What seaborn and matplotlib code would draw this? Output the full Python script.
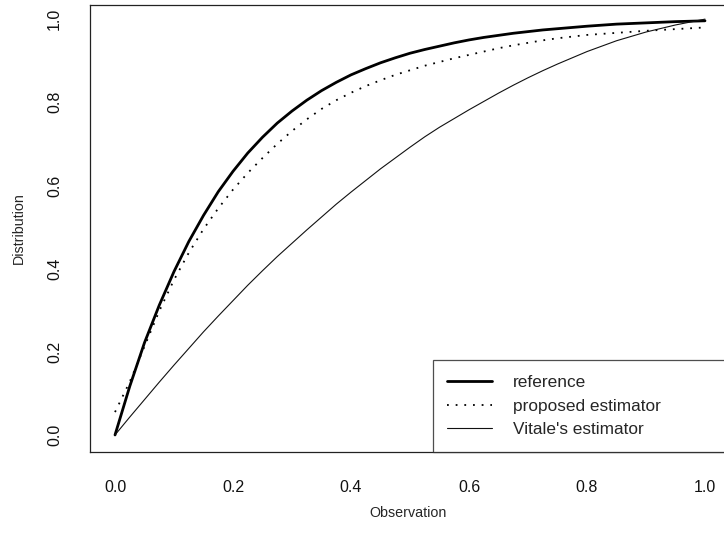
import matplotlib
matplotlib.use("Agg")
import matplotlib.pyplot as plt
import seaborn as sns
import pandas as pd

# valeurs
obs = [0.0, 0.025, 0.05, 0.075, 0.1, 0.125, 0.15, 0.175, 0.2, 0.225, 0.25, 0.275, 0.3,
       0.325, 0.35, 0.375, 0.4, 0.425, 0.45, 0.475, 0.5, 0.525, 0.55, 0.575, 0.6, 0.625,
       0.65, 0.675, 0.7, 0.725, 0.75, 0.8, 0.85, 0.9, 0.95, 1.0]
reference = [0.0, 0.117, 0.222, 0.312, 0.393, 0.465, 0.528, 0.585, 0.634, 0.678, 0.716,
             0.750, 0.779, 0.805, 0.828, 0.848, 0.866, 0.881, 0.895, 0.907, 0.918, 0.927,
             0.935, 0.943, 0.950, 0.956, 0.961, 0.966, 0.970, 0.974, 0.977, 0.983, 0.988,
             0.991, 0.994, 0.996]
proposed = [0.055, 0.128, 0.213, 0.298, 0.373, 0.438, 0.495, 0.545, 0.590, 0.630, 0.666,
            0.700, 0.731, 0.759, 0.784, 0.805, 0.823, 0.839, 0.853, 0.866, 0.877, 0.888,
            0.897, 0.906, 0.914, 0.922, 0.930, 0.937, 0.943, 0.949, 0.954, 0.962, 0.967,
            0.972, 0.976, 0.980]
vitale = [0.0, 0.043, 0.085, 0.127, 0.168, 0.208, 0.248, 0.286, 0.323, 0.360, 0.395,
          0.429, 0.461, 0.493, 0.524, 0.555, 0.584, 0.612, 0.640, 0.666, 0.692, 0.717,
          0.740, 0.761, 0.782, 0.802, 0.822, 0.841, 0.859, 0.876, 0.892, 0.922, 0.948,
          0.969, 0.986, 1.0]
labels = ["reference", "proposed estimator", "Vitale's estimator"]
ticks = [0.0, 0.2, 0.4, 0.6, 0.8, 1.0]

df = pd.DataFrame({"obs": obs, "reference": reference, "proposed": proposed, "vitale": vitale})

sns.set_theme(style="white")
plt.rcParams["font.family"] = ["Liberation Sans", "DejaVu Sans"]
plt.rcParams["font.size"] = 10

fig = plt.figure(figsize=(7.24, 5.43), dpi=100)
ax = fig.add_axes([90 / 724, 91 / 543, 637 / 724, 447 / 543])

sns.lineplot(data=df, x="obs", y="reference", ax=ax, color="black", linewidth=2.0,
             label=labels[0])
sns.lineplot(data=df, x="obs", y="proposed", ax=ax, color="black", linewidth=1.3,
             linestyle=(0, (1, 3.8)), label=labels[1])
sns.lineplot(data=df, x="obs", y="vitale", ax=ax, color="#111111", linewidth=0.8,
             label=labels[2])

ax.set_xlim(-0.0424, 1.0373)
ax.set_ylim(-0.041, 1.034)
ax.set_xticks(ticks)
ax.set_yticks(ticks)
ax.set_xticklabels([f"{t:.1f}" for t in ticks])
ax.set_yticklabels([f"{t:.1f}" for t in ticks])
for lab in ax.get_yticklabels():
    lab.set_rotation(90)
    lab.set_va("center")

for s in ax.spines.values():
    s.set_visible(True)
    s.set_color("#222222")
    s.set_linewidth(0.9)

ax.tick_params(axis="both", which="major", direction="out", length=8, width=0.8,
               color="#555555", labelsize=11.5, labelcolor="#111111")
ax.tick_params(axis="x", pad=12)
ax.tick_params(axis="y", pad=12)

ax.set_xlabel("Observation", fontsize=10.3)
ax.set_ylabel("Distribution", fontsize=10.3)
ax.xaxis.set_label_coords(0.5, -0.12)
ax.yaxis.set_label_coords(-0.101, 0.5)

leg = ax.legend(loc="lower left", bbox_to_anchor=(0.538, 0.0, 0.462, 0.21), mode="expand",
                frameon=True, fancybox=False, edgecolor="#222222", borderaxespad=0,
                handlelength=2.6, handletextpad=1.2, labelspacing=0.5, borderpad=0.85,
                fontsize=12.4)
leg.get_frame().set_linewidth(0.9)

fig.savefig("out.png", dpi=100)
